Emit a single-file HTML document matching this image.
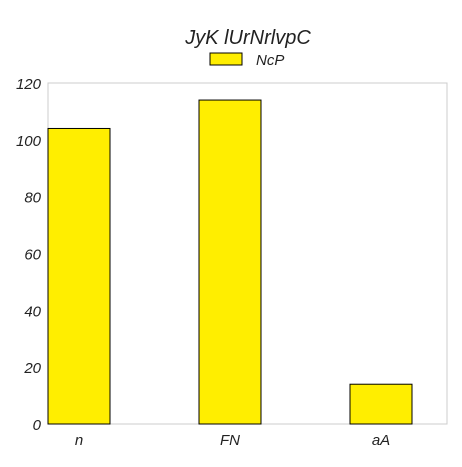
<!DOCTYPE html>
<html><head><meta charset="utf-8"><style>body{margin:0;background:#fff}text{font-family:"Liberation Sans",sans-serif;font-style:italic}</style></head>
<body>
<svg width="462" height="462" id="c">
<text x="248" y="44" font-size="20" text-anchor="middle" fill="#222">JyK lUrNrlvpC</text>
<g><rect x="210" y="53" width="32" height="12" fill="#ffee00" stroke="#000" stroke-width="1"/><text x="256" y="65" font-size="15" fill="#222">NcP</text></g>
<rect x="48" y="83" width="399" height="341" fill="none" stroke="#ccc"/>
<g id="bars"></g><g id="ticks"></g>
</svg>
<script>
const categories=["n","FN","aA"];
const values=[104,114,14];
const yTicks=[0,20,40,60,80,100,120];
const y=v=>424-v/120*341;
const xc=i=>79+i*151;
const svg=document.getElementById('c'),NS="http://www.w3.org/2000/svg";
const bars=document.getElementById('bars'),ticks=document.getElementById('ticks');
values.forEach((v,i)=>{const r=document.createElementNS(NS,'rect');


r.setAttribute('x',xc(i)-31);r.setAttribute('width',62);r.setAttribute('y',y(v));r.setAttribute('height',424-y(v));
r.setAttribute('fill','#ffee00');r.setAttribute('stroke','#000');bars.appendChild(r);
const t=document.createElementNS(NS,'text');


t.setAttribute('x',xc(i));t.setAttribute('y',445);t.setAttribute('font-size','15');t.setAttribute('text-anchor','middle');t.setAttribute('fill','#222');t.textContent=categories[i];ticks.appendChild(t);});
yTicks.forEach(v=>{const t=document.createElementNS(NS,'text');


t.setAttribute('x',41);t.setAttribute('y',y(v)+6);t.setAttribute('font-size','15');t.setAttribute('text-anchor','end');t.setAttribute('fill','#222');t.textContent=v;ticks.appendChild(t);});
</script>
</body></html>
